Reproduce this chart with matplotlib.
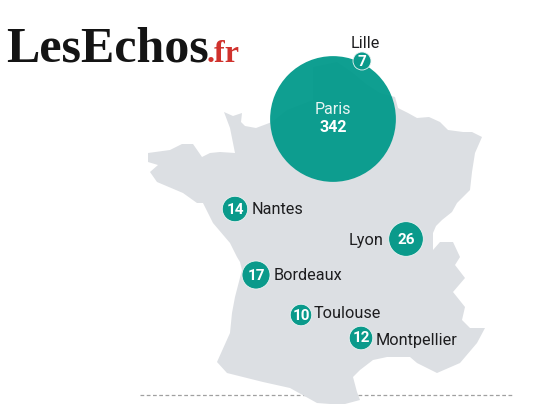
import matplotlib
matplotlib.use("Agg")
import matplotlib.pyplot as plt
from matplotlib.patches import Circle, Polygon
import numpy as np

# values per city
cities = ['Lille', 'Paris', 'Nantes', 'Lyon', 'Bordeaux', 'Toulouse', 'Montpellier']
values = [7, 342, 14, 26, 17, 10, 12]

# city location on the map, in picture pixels
city_x = [362, 333, 235, 406, 256, 301, 361]
city_y = [61, 119, 209, 239, 275, 315, 338]

# outline of France, in picture pixels
map_x = [224, 233, 242, 241, 245, 256, 272, 287, 313, 313, 337, 353, 366, 380, 395, 398, 408, 417,
         429, 440, 448, 463, 472, 482, 475, 472, 470, 457, 452, 442, 436, 433, 433, 440, 453, 460,
         455, 465, 453, 465, 462, 470, 485, 477, 460, 437, 417, 410, 387, 373, 360, 353, 357, 360,
         345, 330, 317, 290, 263, 227, 217, 230, 232, 235, 242, 240, 237, 230, 213, 203, 197, 183,
         157, 150, 158, 148, 148, 170, 182, 193, 202, 210, 220, 235, 230]
map_y = [112, 116, 113, 122, 126, 128, 122, 110, 100, 67, 62, 73, 84, 93, 97, 108, 113, 118,
         117, 122, 130, 132, 132, 137, 153, 172, 190, 203, 212, 220, 226, 233, 250, 242, 242, 257,
         265, 278, 292, 307, 320, 328, 328, 343, 363, 373, 363, 357, 357, 360, 370, 377, 392, 400,
         404, 404, 403, 388, 382, 373, 362, 333, 313, 297, 270, 262, 257, 243, 223, 203, 203, 193,
         182, 172, 165, 162, 153, 150, 144, 144, 157, 153, 152, 153, 128]

teal = '#0a9a8b'
grey_map = '#dcdfe3'
dark = '#1d1d1f'
font = ['Roboto', 'DejaVu Sans']

fig = plt.figure(figsize=(5.55, 4.16), dpi=100)
ax = fig.add_axes([0, 0, 1, 1])
ax.set_xlim(0, 555)
ax.set_ylim(416, 0)
ax.axis('off')

# pointille du bas, coupe par les Pyrenees
ax.plot([140, 317], [395, 395], color='#a0a0a0', lw=0.9, ls=(0, (3, 2)))
ax.plot([358, 512], [395, 395], color='#a0a0a0', lw=0.9, ls=(0, (3, 2)))

ax.add_patch(Polygon(np.column_stack([map_x, map_y]), closed=True, fc=grey_map, ec='none', zorder=2))

# bubble area follows the value
for name, v, x, y in zip(cities, values, city_x, city_y):
    r = 3.4 * np.sqrt(v)
    if name == 'Paris':
        ax.add_patch(Circle((x, y), r, fc='#00998a', ec='none', alpha=0.94, zorder=3))
    else:
        ax.add_patch(Circle((x, y), r, fc=teal, ec='#eef3f3', lw=0.6, zorder=4))
        ax.text(x, y + 0.5, str(v), color='white', fontsize=11, fontweight='bold',
                family=font, ha='center', va='center', zorder=5)

ax.text(333, 110, 'Paris', color='#e8f5f3', fontsize=11.5, family=font, ha='center', va='center', zorder=5)
ax.text(333, 127, '342', color='white', fontsize=11.5, fontweight='bold', family=font,
        ha='center', va='center', zorder=5)

# etiquettes des villes
label_pos = {'Lille': (365, 43, 'center'), 'Nantes': (252, 210, 'left'), 'Lyon': (383, 240, 'right'),
             'Bordeaux': (274, 276, 'left'), 'Toulouse': (314, 313, 'left'), 'Montpellier': (376, 341, 'left')}
for name, (lx, ly, ha) in label_pos.items():
    ax.text(lx, ly, name, color=dark, fontsize=11.7, family=font, ha=ha, va='center', zorder=5)

# logo
ax.text(6, 61, 'LesEchos', color='#141414', fontsize=36, fontweight='bold',
        family='Liberation Serif', ha='left', va='baseline', zorder=5)
ax.text(207, 62, '.fr', color='#d0322d', fontsize=23, fontweight='bold',
        family='Liberation Serif', ha='left', va='baseline', zorder=5)

fig.savefig('out.png', dpi=100)
